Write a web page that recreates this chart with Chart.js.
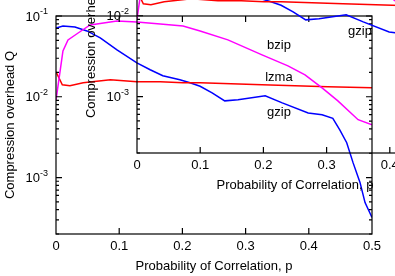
<!DOCTYPE html>
<html><head><meta charset="utf-8">
<script src="https://cdn.jsdelivr.net/npm/chart.js@4.4.1/dist/chart.umd.min.js"></script>
<style>
html,body{margin:0;padding:0;background:#fff;overflow:hidden;width:395px;height:276px;}
#wrap{position:relative;width:395px;height:276px;overflow:hidden;background:#fff;}
canvas{position:absolute;}
#c1{left:0;top:0;}
#c2{left:81px;top:-81px;}
</style></head><body>
<div id="wrap"><canvas id="c1" width="395" height="276"></canvas><canvas id="c2" width="395" height="276"></canvas></div>
<script>
// ---- data ----
const xTickValues = [0, 0.1, 0.2, 0.3, 0.4, 0.5];
const xTickLabels = ['0', '0.1', '0.2', '0.3', '0.4', '0.5'];
const yDecades = [-1, -2, -3];

const bzipP = [0, 0.011, 0.019, 0.035, 0.054, 0.0965, 0.128, 0.165, 0.201, 0.228, 0.272, 0.326, 0.367, 0.394, 0.421, 0.446, 0.478, 0.5];
const bzipQ = [0.0091, 0.037, 0.0506, 0.0616, 0.0774, 0.0868, 0.0843, 0.0796, 0.0753, 0.0653, 0.0506, 0.033, 0.0241, 0.0187, 0.0129, 0.0089, 0.0052, 0.0045];

const lzmaP = [0, 0.01, 0.022, 0.043, 0.086, 0.128, 0.165, 0.201, 0.228, 0.326, 0.43, 0.5];
const lzmaQ = [0.0204, 0.0141, 0.0137, 0.0149, 0.0162, 0.0153, 0.0153, 0.0149, 0.0149, 0.0141, 0.0133, 0.0129];

const gzipP = [0, 0.011, 0.030, 0.049, 0.070, 0.0965, 0.128, 0.149, 0.169, 0.196, 0.212, 0.228, 0.247, 0.267, 0.288, 0.331, 0.358, 0.399, 0.421, 0.438, 0.449, 0.460, 0.470, 0.481, 0.489, 0.5];
const gzipQ = [0.0711, 0.0753, 0.0732, 0.0653, 0.0535, 0.038, 0.0263, 0.0216, 0.0182, 0.0162, 0.0149, 0.0135, 0.0112, 0.0089, 0.0092, 0.0103, 0.0084, 0.0063, 0.006, 0.0054, 0.0039, 0.0027, 0.00153, 0.00087, 0.00049, 0.00032];

const seriesNames = ['bzip', 'lzma', 'gzip'];
const labelP = [0.334, 0.331, 0.334];
const labelQ = [0.0438, 0.0172, 0.00634];

const xTitle = 'Probability of Correlation, p';
const yTitle = 'Compression overhead Q';

// ---- build ----
const pts = (P, Q) => P.map((p, i) => ({x: p, y: Q[i]}));
const FONT = '"Liberation Sans", Arial, Helvetica, sans-serif';

const gnuAxes = {
  id: 'gnuAxes',
  afterDatasetsDraw(chart) {
    const {ctx, chartArea: a, scales: {x, y}} = chart;
    ctx.save();
    ctx.strokeStyle = '#000';
    ctx.lineWidth = 1.2;
    ctx.strokeRect(a.left, a.top, a.right - a.left, a.bottom - a.top);
    ctx.beginPath();
    xTickValues.forEach(v => {
      if (v <= x.min || v >= x.max) return;
      const px = x.getPixelForValue(v);
      ctx.moveTo(px, a.bottom); ctx.lineTo(px, a.bottom - 6);
      ctx.moveTo(px, a.top); ctx.lineTo(px, a.top + 6);
    });
    for (let e = -4; e <= -1; e++) {
      for (let m = 1; m <= 9; m++) {
        const v = m * Math.pow(10, e);
        if (v < y.min * 0.999 || v > y.max * 1.001) continue;
        const py = y.getPixelForValue(v);
        const len = m === 1 ? 6 : 3;
        ctx.moveTo(a.left, py); ctx.lineTo(a.left + len, py);
        ctx.moveTo(a.right, py); ctx.lineTo(a.right - len, py);
      }
    }
    ctx.stroke();

    ctx.fillStyle = '#000';
    ctx.font = '13px ' + FONT;
    ctx.textAlign = 'center';
    ctx.textBaseline = 'middle';
    xTickValues.forEach((v, i) => {
      ctx.fillText(xTickLabels[i], x.getPixelForValue(v), a.bottom + 12);
    });
    yDecades.forEach(d => {
      const py = y.getPixelForValue(Math.pow(10, d));
      ctx.font = '13px ' + FONT;
      ctx.textAlign = 'right';
      ctx.fillText('10', a.left - 16, py + 1);
      ctx.font = '9px ' + FONT;
      ctx.textAlign = 'left';
      ctx.fillText(String(d), a.left - 16, py - 4);
    });
    ctx.font = '13px ' + FONT;
    ctx.textAlign = 'center';
    ctx.fillText(xTitle, (a.left + a.right) / 2, a.bottom + 32);
    ctx.save();
    ctx.translate(10, (a.top + a.bottom) / 2);
    ctx.rotate(-Math.PI / 2);
    ctx.fillText(yTitle, 0, 0);
    ctx.restore();
    ctx.textAlign = 'left';
    seriesNames.forEach((n, i) => {
      ctx.fillText(n, x.getPixelForValue(labelP[i]), y.getPixelForValue(labelQ[i]));
    });
    ctx.restore();
  }
};

function makeChart(id) {
  return new Chart(document.getElementById(id), {
    type: 'line',
    data: {
      datasets: [
        {label: 'bzip', data: pts(bzipP, bzipQ), borderColor: '#ff00ff'},
        {label: 'lzma', data: pts(lzmaP, lzmaQ), borderColor: '#ff0000'},
        {label: 'gzip', data: pts(gzipP, gzipQ), borderColor: '#0000ff'}
      ]
    },
    options: {
      responsive: false,
      devicePixelRatio: 1,
      animation: false,
      elements: {point: {radius: 0}, line: {borderWidth: 1.5, tension: 0, fill: false}},
      layout: {padding: {left: 56, top: 16, right: 23, bottom: 42}},
      plugins: {legend: {display: false}, tooltip: {enabled: false}},
      scales: {
        x: {type: 'linear', min: 0, max: 0.5, display: false},
        y: {type: 'logarithmic', min: 2e-4, max: 0.1, display: false}
      }
    },
    plugins: [gnuAxes]
  });
}
makeChart('c1');
makeChart('c2');
</script>
</body></html>
